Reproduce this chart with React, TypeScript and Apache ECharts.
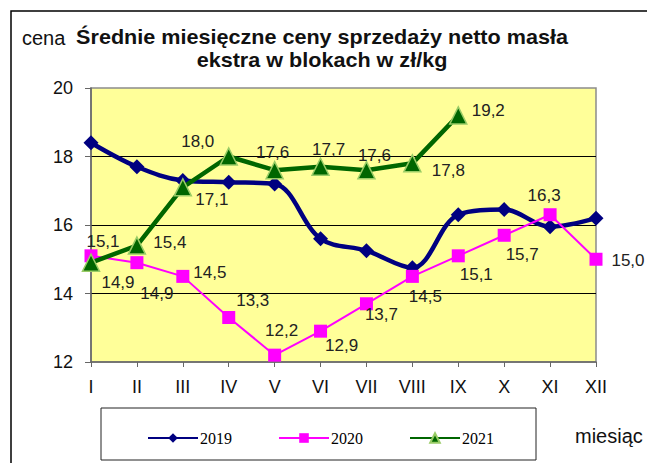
import React, { useEffect, useRef } from "react";
import * as echarts from "echarts";

const months = ["I", "II", "III", "IV", "V", "VI", "VII", "VIII", "IX", "X", "XI", "XII"];
const yTicks = [12, 14, 16, 18, 20];
const s2019 = [18.4, 17.7, 17.3, 17.25, 17.2, 15.6, 15.25, 14.75, 16.3, 16.45, 15.95, 16.2];
const s2020 = [15.1, 14.9, 14.5, 13.3, 12.2, 12.9, 13.7, 14.5, 15.1, 15.7, 16.3, 15.0];
const s2021 = [14.9, 15.4, 17.1, 18.0, 17.6, 17.7, 17.6, 17.8, 19.2];
const seriesNames = ["2019", "2020", "2021"];
const titleLine1 = "Średnie miesięczne ceny sprzedaży netto masła";
const titleLine2 = "ekstra w blokach w zł/kg";
const yName = "cena";
const xName = "miesiąc";

// label offsets (pixels) relative to each marker
const off2020: [number, number][] = [
  [12, -14], [20, 31], [27, -4], [24, -17], [7, -25], [21, 14],
  [15, 11], [13, 20], [18, 19], [18, 19], [-6, -19], [32, 1],
];
const off2021: [number, number][] = [
  [27, 20], [33, -3], [29, 12], [-31, -15], [-2, -18], [8, -17],
  [8, -15], [36, 7], [30, -5],
];

const fmt = (v: number) => v.toFixed(1).replace(".", ",");
const SANS = "Liberation Sans, Arial, sans-serif";

export default function App() {
  const ref = useRef<HTMLDivElement>(null);
  useEffect(() => {
    if (!ref.current) return;
    const chart = echarts.init(ref.current, undefined, { renderer: "svg" });
    const labelBase = {
      show: true,
      position: "inside",
      align: "center",
      verticalAlign: "middle",
      color: "#222",
      fontSize: 17,
      fontFamily: SANS,
    };
    chart.setOption({
      animation: false,
      backgroundColor: "#ffffff",
      grid: {
        left: 91,
        right: 51,
        top: 88,
        bottom: 101,
        show: true,
        backgroundColor: "#FFFF99",
        borderColor: "#8c8c8c",
        borderWidth: 1.5,
      },
      xAxis: {
        type: "category",
        data: months,
        boundaryGap: false,
        axisLine: { lineStyle: { color: "#666", width: 1.5 } },
        axisTick: { show: true, length: 5, lineStyle: { color: "#666" } },
        axisLabel: { color: "#111", fontSize: 18, fontFamily: SANS, margin: 16 },
        splitLine: { show: false },
      },
      yAxis: {
        type: "value",
        min: yTicks[0],
        max: yTicks[yTicks.length - 1],
        interval: 2,
        axisLine: { show: true, lineStyle: { color: "#666", width: 1.5 } },
        axisTick: { show: true, length: 6, lineStyle: { color: "#666" } },
        axisLabel: { color: "#111", fontSize: 18, fontFamily: SANS, margin: 18 },
        splitLine: { show: true, showMinLine: false, showMaxLine: false, lineStyle: { color: "#000", width: 1 } },
      },
      legend: {
        left: 142,
        top: 425,
        itemWidth: 50,
        itemHeight: 12,
        itemGap: 46,
        textStyle: { fontFamily: "Liberation Serif, Times New Roman, serif", fontSize: 16, color: "#000", padding: [0, 0, 0, -3] },
        data: seriesNames,
      },
      graphic: [
        { type: "rect", shape: { x: 11, y: 11, width: 700, height: 520 }, style: { fill: "none", stroke: "#000", lineWidth: 1.5 }, silent: true },
        { type: "rect", shape: { x: 101, y: 408, width: 435, height: 52 }, style: { fill: "none", stroke: "#222", lineWidth: 1 }, silent: true },
        { type: "text", x: 22, y: 38, style: { text: yName, fontSize: 20, fontFamily: SANS, fill: "#111", verticalAlign: "middle" } },
        { type: "text", x: 322, y: 37, scaleX: 1.08, style: { text: titleLine1, fontSize: 20, fontWeight: "bold", fontFamily: SANS, fill: "#111", align: "center", verticalAlign: "middle" } },
        { type: "text", x: 322, y: 60, scaleX: 1.08, style: { text: titleLine2, fontSize: 20, fontWeight: "bold", fontFamily: SANS, fill: "#111", align: "center", verticalAlign: "middle" } },
        { type: "text", x: 575, y: 436, style: { text: xName, fontSize: 20, fontFamily: SANS, fill: "#111", verticalAlign: "middle" } },
      ],
      series: [
        {
          name: seriesNames[0],
          type: "line",
          data: s2019,
          smooth: 0.35,
          symbol: "diamond",
          symbolSize: 15,
          itemStyle: { color: "#000080" },
          lineStyle: { color: "#000080", width: 4.5 },
          z: 2,
        },
        {
          name: seriesNames[1],
          type: "line",
          data: s2020.map((v, i) => ({
            value: v,
            label: { ...labelBase, offset: off2020[i], formatter: () => fmt(v) },
          })),
          symbol: "rect",
          symbolSize: 13,
          itemStyle: { color: "#FF00FF" },
          lineStyle: { color: "#FF00FF", width: 2 },
          z: 3,
        },
        {
          name: seriesNames[2],
          type: "line",
          data: s2021.map((v, i) => ({
            value: v,
            label: { ...labelBase, offset: off2021[i], formatter: () => fmt(v) },
          })),
          symbol: "triangle",
          symbolSize: 17,
          itemStyle: { color: "#006600", borderColor: "#99CC66", borderWidth: 1.5 },
          lineStyle: { color: "#006600", width: 4.5 },
          z: 4,
        },
      ],
    });
    return () => chart.dispose();
  }, []);
  return (
    <div
      ref={ref}
      style={{ position: "absolute", left: 0, top: 0, width: 647, height: 463, background: "#fff" }}
    />
  );
}
